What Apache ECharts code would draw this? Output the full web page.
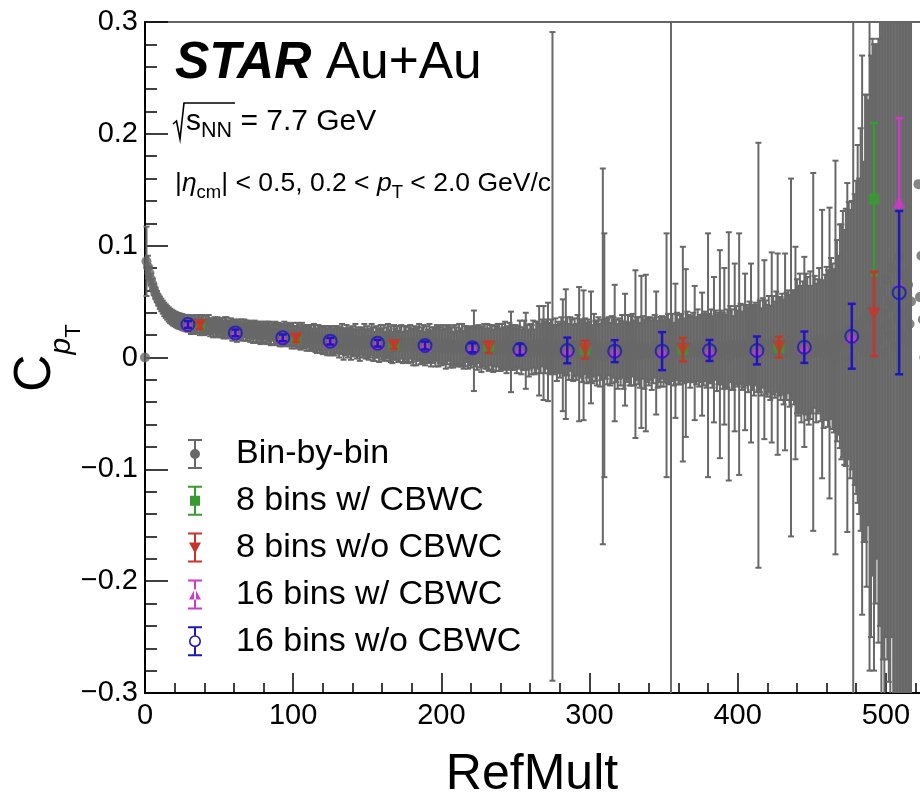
<!DOCTYPE html>
<html><head><meta charset="utf-8">
<script src="https://cdn.jsdelivr.net/npm/echarts@6.0.0/dist/echarts.min.js"></script>
<style>html,body{margin:0;padding:0;background:#fff;}#c{width:920px;height:797px;}</style>
</head><body><div id="c"></div>
<script>
// ---------------- DATA ----------------
// Bin-by-bin: one point per RefMult value, RefMult = index (0, 1, 2, ...)
const binByBinRefMultStart = 0;
const binByBinValue = [
0,0.086,0.081,0.0755,0.070,0.0655,0.061,0.0575,0.0545,0.0515,
0.049,0.047,0.045,0.043,0.0415,0.040,0.0385,0.0372,0.0362,0.0352,
0.0345,0.0338,0.033,0.0327,0.0322,0.0318,0.0312,0.031,0.0305,0.0302,
0.031,0.029,0.030,0.028,0.030,0.029,0.031,0.028,0.029,0.030,
0.027,0.029,0.028,0.030,0.027,0.028,0.026,0.029,0.027,0.028,
0.026,0.028,0.027,0.025,0.027,0.028,0.025,0.026,0.027,0.024,
0.026,0.025,0.023,0.026,0.024,0.025,0.023,0.026,0.024,0.023,
0.025,0.023,0.024,0.022,0.025,0.023,0.022,0.024,0.021,0.023,
0.022,0.024,0.021,0.023,0.022,0.020,0.023,0.021,0.022,0.020,
0.022,0.020,0.021,0.019,0.022,0.020,0.021,0.019,0.020,0.018,
0.021,0.019,0.018,0.020,0.019,0.017,0.020,0.018,0.019,0.017,
0.019,0.017,0.018,0.016,0.019,0.017,0.015,0.018,0.016,0.017,
0.015,0.017,0.016,0.014,0.017,0.015,0.016,0.014,0.015,0.016,
0.016,0.013,0.015,0.017,0.012,0.014,0.016,0.013,0.015,0.012,
0.015,0.013,0.016,0.012,0.014,0.011,0.015,0.013,0.016,0.012,
0.014,0.011,0.013,0.016,0.012,0.010,0.014,0.013,0.011,0.015,
0.012,0.014,0.010,0.013,0.015,0.011,0.012,0.009,0.014,0.012,
0.013,0.010,0.012,0.014,0.009,0.012,0.013,0.010,0.011,0.014,
0.011,0.009,0.013,0.010,0.012,0.014,0.009,0.011,0.012,0.008,
0.012,0.010,0.013,0.008,0.011,0.012,0.009,0.013,0.010,0.011,
0.009,0.012,0.010,0.008,0.011,0.013,0.009,0.010,0.007,0.011,
0.010,0.008,0.012,0.009,0.011,0.007,0.010,0.012,0.008,0.010,
0.009,0.011,0.006,0.010,0.008,0.012,0.009,0.007,0.010,0.011,
0.008,0.010,0.007,0.011,0.009,0.006,0.010,0.008,0.011,0.009,
0.007,0.010,0.008,0.011,0.006,0.009,0.010,0.005,0.009,0.008,
0.010,0.006,0.009,0.012,0.005,0.008,0.011,0.006,0.009,0.004,
0.010,0.007,0.012,0.005,0.009,0.011,0.006,0.008,0.013,0.004,
0.009,0.012,0.005,0.008,0.010,0.001,0.007,0.011,0.004,0.009,
0.006,0.011,0.002,0.008,0.003,0.010,0.005,0.012,0.007,0.004,
0.009,0.005,0.011,0.003,0.008,0.006,0.002,0.010,0.004,0.008,
0.005,0.009,0.003,0.011,0.006,0.004,0.010,0.002,0.007,0.001,
0.002,0.008,0.005,0.010,0.003,0.007,0.009,0.004,0.006,0.001,
0.008,0.004,0.010,0.002,0.007,0.005,0.009,0.003,0.006,0.011,
0.004,0.003,0.008,0.006,0.002,0.005,0.009,0.003,0.004,0.007,
0.005,0.008,0.002,0.006,0.010,0.004,0.003,0.007,0.005,0.009,
0.004,0.007,0.002,0.008,0.005,0.005,0.009,0.003,0.006,0.010,
0.005,0.007,0.009,0.003,0.006,0.004,0.010,0.008,0.005,0.007,
0.009,0.004,0.006,0.011,0.005,0.008,0.003,0.007,0.010,0.006,
0.002,0.008,0.010,0.005,0.007,0.011,0.004,0.008,0.003,0.009,
0.006,0.010,0.005,0.008,0.001,0.012,0.007,0.004,0.009,0.011,
0.008,0.003,0.012,0.006,0.010,0.005,0.011,0.007,0.013,0.004,
0.009,0.006,0.012,0.008,0.002,0.010,0.005,0.013,0.007,0.009,
0.006,0.012,0.004,0.009,0.011,0.007,0.014,0.003,0.010,0.008,
0.012,0.005,0.005,0.010,0.014,0.006,0.000,0.011,0.009,0.004,
0.010,0.006,0.013,0.003,0.009,0.005,0.012,0.008,0.002,0.011,
0.007,0.005,0.014,0.004,0.010,0.016,0.006,0.012,0.003,0.009,
0.013,0.008,0.004,0.017,0.010,0.006,0.000,0.015,0.011,0.019,
0.014,0.021,0.009,0.018,0.000,0.024,0.012,0.020,0.000,0.016,
0.018,0.030,0.010,0.025,0.020,0.005,0.035,0.015,0.040,0.020,
0.010,0.045,0.000,0.030,0.050,0.015,0.060,0.025,0.040,0.005,
0.070,0.030,0.050,0.020,0.080,0.045,0.010,0.060,0.035,0.090,
0.020,0.055,0.040,0.075,0.015,0.065,0.030,0.050,null,null,
null,null,0.155,0.054,0.091,0.034,0.000
];
const binByBinError = [
0,0.031,0.010,0.006,0.005,0.005,0.005,0.005,0.005,0.005,
0.0055,0.0056,0.0058,0.006,0.006,0.0062,0.0063,0.0064,0.0065,0.0066,
0.0066,0.0067,0.0068,0.0068,0.0069,0.007,0.007,0.0071,0.0072,0.0072,
0.007,0.008,0.007,0.007,0.008,0.007,0.007,0.008,0.007,0.008,
0.007,0.008,0.007,0.008,0.008,0.007,0.008,0.007,0.008,0.008,
0.008,0.007,0.008,0.008,0.009,0.008,0.008,0.007,0.008,0.009,
0.008,0.008,0.009,0.008,0.008,0.009,0.008,0.008,0.009,0.008,
0.008,0.009,0.008,0.009,0.008,0.009,0.009,0.008,0.009,0.009,
0.009,0.008,0.009,0.009,0.010,0.009,0.008,0.009,0.010,0.009,
0.009,0.010,0.009,0.009,0.010,0.009,0.010,0.009,0.010,0.010,
0.010,0.009,0.010,0.011,0.010,0.010,0.011,0.010,0.010,0.011,
0.010,0.011,0.011,0.010,0.011,0.012,0.011,0.011,0.012,0.011,
0.012,0.011,0.012,0.012,0.011,0.013,0.012,0.012,0.013,0.012,
0.012,0.013,0.012,0.013,0.014,0.012,0.013,0.013,0.012,0.014,
0.013,0.012,0.014,0.013,0.013,0.014,0.012,0.013,0.014,0.013,
0.014,0.013,0.013,0.014,0.015,0.013,0.014,0.013,0.015,0.014,
0.014,0.015,0.013,0.014,0.015,0.014,0.016,0.014,0.015,0.014,
0.015,0.014,0.016,0.015,0.014,0.016,0.015,0.014,0.016,0.015,
0.015,0.016,0.015,0.017,0.015,0.016,0.015,0.016,0.017,0.015,
0.016,0.015,0.017,0.016,0.016,0.015,0.017,0.016,0.018,0.016,
0.016,0.017,0.016,0.018,0.017,0.016,0.018,0.017,0.016,0.018,
0.017,0.016,0.018,0.017,0.019,0.017,0.018,0.016,0.018,0.017,
0.018,0.017,0.036,0.018,0.019,0.017,0.018,0.020,0.018,0.019,
0.018,0.020,0.019,0.018,0.020,0.019,0.018,0.020,0.019,0.021,
0.019,0.020,0.019,0.021,0.020,0.019,0.021,0.036,0.020,0.019,
0.019,0.020,0.019,0.021,0.020,0.019,0.022,0.034,0.020,0.021,
0.020,0.022,0.021,0.020,0.023,0.021,0.040,0.022,0.021,0.042,
0.023,0.022,0.044,0.023,0.024,0.290,0.022,0.024,0.025,0.023,
0.024,0.025,0.050,0.024,0.058,0.026,0.025,0.024,0.027,0.025,
0.026,0.025,0.027,0.060,0.026,0.028,0.058,0.025,0.027,0.026,
0.027,0.050,0.026,0.028,0.027,0.029,0.026,0.028,0.027,0.168,
0.109,0.027,0.029,0.026,0.028,0.030,0.027,0.061,0.028,0.029,
0.027,0.029,0.028,0.030,0.050,0.027,0.029,0.028,0.031,0.028,
0.029,0.075,0.028,0.030,0.029,0.068,0.028,0.031,0.070,0.029,
0.030,0.028,0.031,0.029,0.028,0.055,0.030,0.029,0.031,0.028,
0.030,0.029,0.109,0.031,0.029,0.500,0.030,0.028,0.060,0.030,
0.029,0.031,0.030,0.096,0.029,0.075,0.031,0.030,0.032,0.029,
0.031,0.060,0.030,0.032,0.031,0.030,0.055,0.032,0.031,0.033,
0.109,0.031,0.033,0.032,0.065,0.031,0.034,0.032,0.093,0.033,
0.034,0.070,0.033,0.035,0.111,0.034,0.036,0.033,0.075,0.035,
0.034,0.108,0.036,0.035,0.037,0.070,0.036,0.038,0.037,0.080,
0.038,0.040,0.037,0.039,0.190,0.041,0.039,0.040,0.080,0.042,
0.041,0.043,0.042,0.085,0.044,0.043,0.045,0.090,0.044,0.046,
0.045,0.047,0.088,0.048,0.046,0.050,0.160,0.049,0.051,0.095,
0.060,0.058,0.062,0.061,0.059,0.085,0.063,0.064,0.062,0.066,
0.057,0.160,0.059,0.062,0.060,0.064,0.063,0.120,0.066,0.065,
0.068,0.070,0.130,0.072,0.074,0.073,0.176,0.090,0.080,0.100,
0.105,0.110,0.105,0.115,0.156,0.115,0.120,0.120,0.500,0.130,
0.14,0.16,0.15,0.18,0.25,0.17,0.20,0.22,0.19,0.30,
0.26,0.24,0.28,0.25,0.23,0.27,0.30,0.33,0.31,0.35,
0.32,0.30,0.34,0.36,0.33,0.38,0.35,0.40,0.37,0.42,
0.39,0.45,0.41,0.48,0.44,0.50,0.46,0.52,null,null,
null,null,0,0,0,0,0
];

// 8 RefMult bins
const bins8RefMult = [37, 102, 168, 232, 297, 363, 428, 492];
const bins8WithCbwc = [0.0290, 0.0170, 0.0110, 0.0093, 0.0072, 0.0072, 0.0090, 0.1417];
const bins8WithCbwcErr = [0.003, 0.003, 0.003, 0.005, 0.008, 0.0105, 0.0094, 0.068];
const bins8NoCbwc = [0.0286, 0.0168, 0.0107, 0.0092, 0.0070, 0.0070, 0.0092, 0.0390];
const bins8NoCbwcErr = [0.003, 0.003, 0.003, 0.005, 0.008, 0.0105, 0.0094, 0.0376];

// 16 RefMult bins
const bins16RefMult = [29, 61, 93, 125, 157, 189, 221, 253, 285, 317, 349, 381, 413, 445, 477, 509];
const bins16WithCbwc = [0.0295, 0.0221, 0.0177, 0.0147, 0.0128, 0.0107, 0.0087, 0.0072, 0.0063, 0.0058, 0.0057, 0.0063, 0.0063, 0.0092, 0.0190, 0.1390];
const bins16WithCbwcErr = [0.003, 0.003, 0.003, 0.003, 0.003, 0.0035, 0.004, 0.005, 0.0115, 0.0098, 0.017, 0.0094, 0.0125, 0.014, 0.029, 0.075];
const bins16NoCbwc = [0.0295, 0.0220, 0.0176, 0.0146, 0.0128, 0.0107, 0.0087, 0.0072, 0.0063, 0.0057, 0.0057, 0.0063, 0.0063, 0.0092, 0.0190, 0.0580];
const bins16NoCbwcErr = [0.003, 0.003, 0.003, 0.003, 0.003, 0.0035, 0.004, 0.005, 0.0115, 0.0098, 0.017, 0.0094, 0.0125, 0.014, 0.029, 0.073];

const seriesNames = ['Bin-by-bin', '8 bins w/ CBWC', '8 bins w/o CBWC', '16 bins w/ CBWC', '16 bins w/o CBWC'];
const xTickLabels = ['0', '100', '200', '300', '400', '500'];

// ---------------- STYLE ----------------
const F = "'Liberation Sans', Arial, Helvetica, sans-serif";
const GREY = '#686868', GREEN = '#3a9a32', RED = '#c8342a', MAGENTA = '#cc3acc', BLUE = '#1a1ab8';
const X_MIN = 0, X_MAX = 600, Y_MIN = -0.3, Y_MAX = 0.3;

const binByBinRefMult = binByBinValue.map((_, i) => binByBinRefMultStart + i);

function errSeries(name, xs, ys, es, color, lw, capHalf, z) {
  const data = [];
  xs.forEach((x, i) => { if (ys[i] != null && es[i]) data.push([x, ys[i], es[i]]); });
  return {
    type: 'custom', name, silent: true, animation: false, data, z, progressive: 0,
    encode: { x: 0, y: 1 },
    renderItem(params, api) {
      const x = api.value(0), y = api.value(1), e = api.value(2);
      const hiV = y + e, loV = y - e;
      const hi = api.coord([x, Math.min(hiV, Y_MAX)]);
      const lo = api.coord([x, Math.max(loV, Y_MIN)]);
      const st = { stroke: color, lineWidth: lw };
      const ch = [{ type: 'line', shape: { x1: hi[0], y1: hi[1], x2: lo[0], y2: lo[1] }, style: st }];
      if (hiV <= Y_MAX) ch.push({ type: 'line', shape: { x1: hi[0] - capHalf, y1: hi[1], x2: hi[0] + capHalf, y2: hi[1] }, style: st });
      if (loV >= Y_MIN) ch.push({ type: 'line', shape: { x1: lo[0] - capHalf, y1: lo[1], x2: lo[0] + capHalf, y2: lo[1] }, style: st });
      return { type: 'group', children: ch };
    }
  };
}
function markSeries(name, xs, ys, symbol, size, itemStyle, z, rotate) {
  const data = [];
  xs.forEach((x, i) => { if (ys[i] != null) data.push([x, ys[i]]); });
  return { type: 'scatter', name, silent: true, animation: false, data, symbol, symbolSize: size, z, progressive: 0,
           symbolRotate: rotate || 0, itemStyle };
}

// legend icons (error bar + marker)
const CAPS = 'M0 0H14V2H0Z M0 28H14V30H0Z ';
const ICON_CIRCLE = 'path://' + CAPS + 'M6 0H8V30H6Z M2 15A5 5 0 1 1 12 15A5 5 0 1 1 2 15Z';
const ICON_SQUARE = 'path://' + CAPS + 'M6 0H8V30H6Z M2 10H12V20H2Z';
const ICON_TDOWN = 'path://' + CAPS + 'M6 0H8V30H6Z M1 10H13L7 21Z';
const ICON_TUP = 'path://' + CAPS + 'M6 0H8V30H6Z M1 20H13L7 9Z';
const ICON_OPEN = 'path://' + CAPS + 'M6 0H8V9H6Z M6 21H8V30H6Z M1 15A6 6 0 1 1 13 15A6 6 0 1 1 1 15Z M2.6 15A4.4 4.4 0 1 0 11.4 15A4.4 4.4 0 1 0 2.6 15Z';

// text runs with subscripts
const mctx = document.createElement('canvas').getContext('2d');
function run(x0, base, parts) {
  let x = x0; const out = [];
  parts.forEach(p => {
    const font = (p.italic ? 'italic ' : '') + (p.bold ? 'bold ' : '') + p.size + 'px ' + F;
    mctx.font = font;
    const w = mctx.measureText(p.t).width;
    out.push({ type: 'text', x: x, y: base + (p.dy || 0) - 0.35 * p.size,
      style: { text: p.t, font: font, fill: '#000', align: 'left', verticalAlign: 'middle' } });
    x += w + (p.gap || 0);
  });
  return out;
}

const graphics = [].concat(
  run(175, 82, [{ t: 'STAR', size: 51.5, bold: true, italic: true }, { t: ' Au+Au', size: 51.5 }]),
  [{ type: 'polyline', shape: { points: [[173, 124], [176.5, 121], [180, 139], [184, 103], [235, 103]] },
     style: { stroke: '#000', lineWidth: 1.6, fill: null } }],
  run(186, 132, [{ t: 's', size: 30 }, { t: 'NN', size: 21.5, dy: 7 }, { t: ' = 7.7 GeV', size: 30 }]),
  run(175, 193, [{ t: '|', size: 26.5 }, { t: 'η', size: 26.5, italic: true }, { t: 'cm', size: 18.5, dy: 6 },
                 { t: '| < 0.5, 0.2 < ', size: 26.5 }, { t: 'p', size: 26.5, italic: true }, { t: 'T', size: 18.5, dy: 6 },
                 { t: ' < 2.0 GeV/c', size: 26.5 }]),
  [{ type: 'group', x: 54, y: 392, rotation: Math.PI / 2,
     children: run(0, 0, [{ t: 'C', size: 52 }, { t: 'p', size: 30, italic: true, dy: 18 }, { t: 'T', size: 22, dy: 28 }]) }],
  [{ type: 'text', x: 532, y: 775, style: { text: 'RefMult', font: '50px ' + F, fill: '#000', align: 'center', verticalAlign: 'middle' } }]
);

const chart = echarts.init(document.getElementById('c'), null, { renderer: 'canvas' });
chart.setOption({
  animation: false,
  backgroundColor: '#fff',
  grid: { left: 145, right: -114, top: 22, bottom: 104, show: true, borderColor: '#333', borderWidth: 1.5,
          outerBoundsMode: 'none', containLabel: false },
  xAxis: {
    type: 'value', min: X_MIN, max: X_MAX, interval: 100,
    axisLine: { show: true, onZero: false, lineStyle: { color: '#000', width: 2 } },
    axisTick: { show: true, inside: true, length: 20, lineStyle: { color: '#000', width: 1.5 } },
    minorTick: { show: true, splitNumber: 5, length: 10, lineStyle: { color: '#000', width: 1.5 } },
    splitLine: { show: false },
    axisLabel: { color: '#000', fontSize: 29, fontFamily: F, margin: 8,
      formatter: v => { const i = Math.round(v / 100); return (Math.abs(v - i * 100) < 1e-6 && xTickLabels[i] != null) ? xTickLabels[i] : ''; } }
  },
  yAxis: {
    type: 'value', min: Y_MIN, max: Y_MAX, interval: 0.1,
    axisLine: { show: true, onZero: false, lineStyle: { color: '#000', width: 2 } },
    axisTick: { show: true, inside: true, length: 23, lineStyle: { color: '#000', width: 1.5 } },
    minorTick: { show: true, splitNumber: 5, length: 12, lineStyle: { color: '#000', width: 1.5 } },
    splitLine: { show: false },
    axisLabel: { color: '#000', fontSize: 29, fontFamily: F, margin: 7,
      formatter: v => { const r = Math.round(v * 10) / 10; if (r === 0) return '0'; return (r < 0 ? '\u2212' : '') + Math.abs(r).toFixed(1); } }
  },
  legend: {
    orient: 'vertical', left: 183, top: 432, itemWidth: 14, itemHeight: 30, itemGap: 12.8,
    selectedMode: false,
    textStyle: { fontSize: 34, fontFamily: F, color: '#000', lineHeight: 34, padding: [0, 0, 0, 29] },
    data: [
      { name: seriesNames[0], icon: ICON_CIRCLE, itemStyle: { color: GREY, borderWidth: 0 } },
      { name: seriesNames[1], icon: ICON_SQUARE, itemStyle: { color: GREEN, borderWidth: 0 } },
      { name: seriesNames[2], icon: ICON_TDOWN, itemStyle: { color: RED, borderWidth: 0 } },
      { name: seriesNames[3], icon: ICON_TUP, itemStyle: { color: MAGENTA, borderWidth: 0 } },
      { name: seriesNames[4], icon: ICON_OPEN, itemStyle: { color: BLUE, borderWidth: 0 } }
    ]
  },
  graphic: graphics,
  series: [
    errSeries(seriesNames[0], binByBinRefMult, binByBinValue, binByBinError, GREY, 2, 3, 2),
    markSeries(seriesNames[0], binByBinRefMult, binByBinValue, 'circle', 10, { color: GREY }, 3),
    errSeries(seriesNames[1], bins8RefMult, bins8WithCbwc, bins8WithCbwcErr, GREEN, 2.5, 4, 4),
    markSeries(seriesNames[1], bins8RefMult, bins8WithCbwc, 'rect', 11, { color: GREEN }, 5),
    errSeries(seriesNames[2], bins8RefMult, bins8NoCbwc, bins8NoCbwcErr, RED, 2.5, 4, 6),
    markSeries(seriesNames[2], bins8RefMult, bins8NoCbwc, 'triangle', 13, { color: RED }, 7, 180),
    errSeries(seriesNames[3], bins16RefMult, bins16WithCbwc, bins16WithCbwcErr, MAGENTA, 2.5, 4, 8),
    markSeries(seriesNames[3], bins16RefMult, bins16WithCbwc, 'triangle', 13, { color: MAGENTA }, 9),
    errSeries(seriesNames[4], bins16RefMult, bins16NoCbwc, bins16NoCbwcErr, BLUE, 2.5, 4, 10),
    markSeries(seriesNames[4], bins16RefMult, bins16NoCbwc, 'circle', 13, { color: 'rgba(0,0,0,0)', borderColor: BLUE, borderWidth: 2 }, 11)
  ]
});
</script></body></html>
